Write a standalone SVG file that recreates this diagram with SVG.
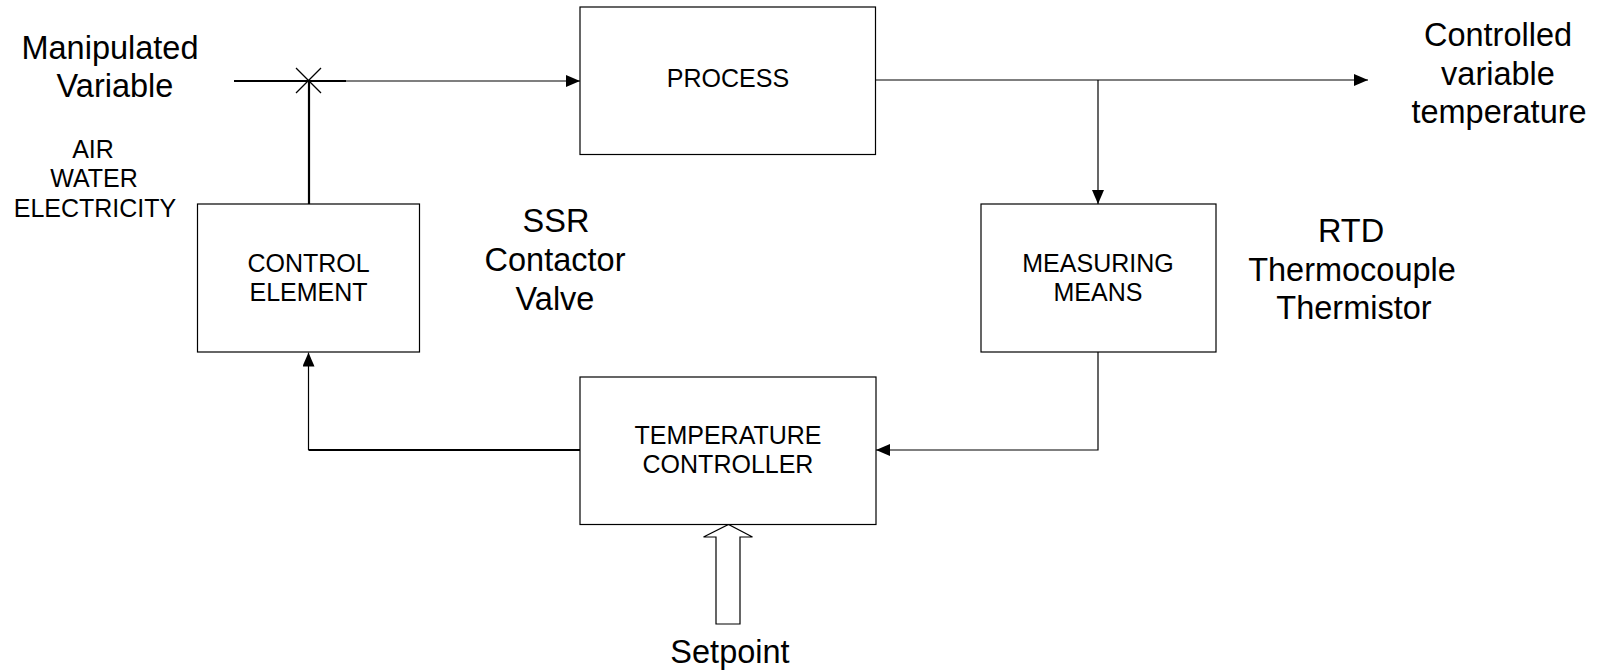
<svg xmlns="http://www.w3.org/2000/svg" width="1599" height="672" viewBox="0 0 1599 672">
<style>
.box{fill:#fff;stroke:#000;stroke-width:1.2}
.ln{fill:none;stroke:#000;stroke-width:1.2}
.thick{fill:none;stroke:#000;stroke-width:2.2}
.lbl{font-family:"Liberation Sans",Arial,sans-serif;font-size:25px;text-anchor:middle;fill:#000}
.big{font-family:"Liberation Sans",Arial,sans-serif;font-size:32.5px;text-anchor:middle;fill:#000}
</style>
<defs>
<marker id="ah" viewBox="0 0 14 12" refX="14" refY="6" markerWidth="14" markerHeight="12" markerUnits="userSpaceOnUse" orient="auto">
<path d="M0,0 L14,6 L0,12 Z" fill="#000"/>
</marker>
</defs>
<rect width="1599" height="672" fill="#fff"/>

<g id="connectors">
<line class="thick" x1="234" y1="81" x2="346" y2="81"/>
<line class="ln" x1="346" y1="81" x2="580" y2="81" marker-end="url(#ah)"/>
<line class="ln" x1="296" y1="68" x2="321" y2="93"/>
<line class="ln" x1="321" y1="68" x2="296" y2="93"/>
<line class="thick" x1="309" y1="81" x2="309" y2="204"/>
<line class="ln" x1="875" y1="80" x2="1368" y2="80" marker-end="url(#ah)"/>
<line class="ln" x1="1098" y1="80" x2="1098" y2="204" marker-end="url(#ah)"/>
<polyline class="ln" points="1098,352 1098,450 876,450" marker-end="url(#ah)"/>
<line class="thick" x1="580" y1="450" x2="308.5" y2="450"/>
<line class="ln" x1="308.5" y1="450" x2="308.5" y2="352.5" marker-end="url(#ah)"/>
<path id="setpoint-arrow" d="M716,624 L716,537 L703.5,537 L728.5,524.5 L752.5,537 L740,537 L740,624 Z" fill="#fff" stroke="#000" stroke-width="1.2"/>
</g>

<g id="process">
<rect class="box" x="580" y="7" width="295.5" height="147.5"/>
<text class="lbl" x="728" y="87">PROCESS</text>
</g>

<g id="control-element">
<rect class="box" x="197.5" y="204" width="222" height="148"/>
<text class="lbl" x="308.5" y="272">CONTROL</text>
<text class="lbl" x="308.5" y="301">ELEMENT</text>
</g>

<g id="measuring-means">
<rect class="box" x="981" y="204" width="235" height="148"/>
<text class="lbl" x="1098" y="272">MEASURING</text>
<text class="lbl" x="1098" y="301">MEANS</text>
</g>

<g id="temperature-controller">
<rect class="box" x="580" y="377" width="296" height="147.5"/>
<text class="lbl" x="728" y="443.5">TEMPERATURE</text>
<text class="lbl" x="728" y="472.5">CONTROLLER</text>
</g>

<g id="labels">
<text class="big" x="110" y="59">Manipulated</text>
<text class="big" x="115" y="97">Variable</text>
<text class="lbl" x="93" y="158">AIR</text>
<text class="lbl" x="94" y="187">WATER</text>
<text class="lbl" x="95" y="216.5">ELECTRICITY</text>
<text class="big" x="556" y="232">SSR</text>
<text class="big" x="555" y="271">Contactor</text>
<text class="big" x="555" y="310">Valve</text>
<text class="big" x="1498" y="46">Controlled</text>
<text class="big" x="1498" y="85">variable</text>
<text class="big" x="1499" y="123">temperature</text>
<text class="big" x="1351" y="242">RTD</text>
<text class="big" x="1352" y="281">Thermocouple</text>
<text class="big" x="1354" y="319">Thermistor</text>
<text class="big" x="730" y="663">Setpoint</text>
</g>
</svg>
